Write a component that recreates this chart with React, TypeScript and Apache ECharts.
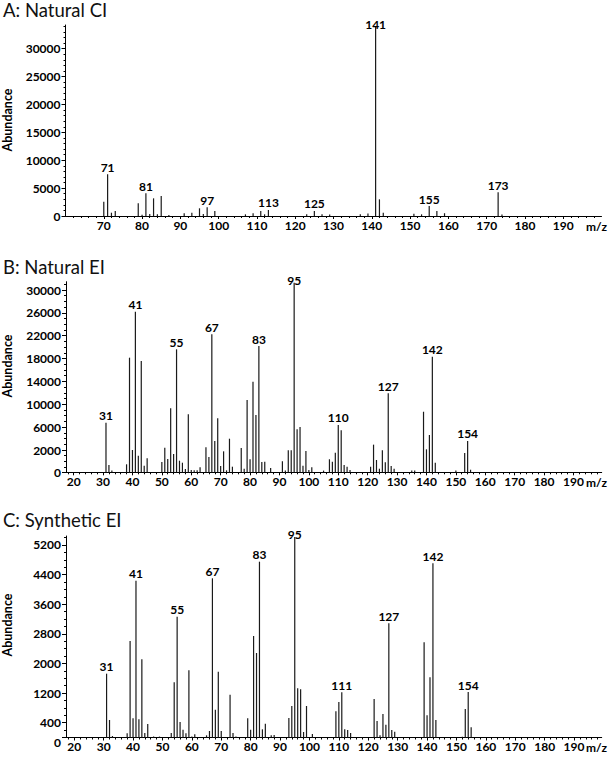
import React, { useEffect, useRef } from "react";
import * as echarts from "echarts";

const FONT = "Lato, 'Noto Sans', sans-serif";

// ---------- Panel A: Natural CI ----------
const A_MZ = [70, 71, 72, 73, 79, 80, 81, 82, 83, 84, 85, 87, 91, 93, 95, 96, 97, 99, 107, 109, 111, 112, 113, 123, 125, 127, 129, 137, 139, 141, 142, 143, 151, 153, 155, 157, 159, 173, 174];
const A_ABUNDANCE = [2560, 7470, 590, 900, 2270, 240, 4070, 360, 3170, 300, 3590, 200, 480, 590, 1380, 350, 1560, 900, 300, 500, 900, 300, 1080, 300, 900, 300, 250, 300, 450, 33950, 2990, 590, 400, 300, 1790, 900, 500, 4250, 250];
const A_LABELED = [71, 81, 97, 113, 125, 141, 155, 173];
const A_X_TICK_LABELS = [70, 80, 90, 100, 110, 120, 130, 140, 150, 160, 170, 180, 190];
const A_Y_TICK_LABELS = [0, 5000, 10000, 15000, 20000, 25000, 30000];

// ---------- Panel B: Natural EI (heights above the baseline, in the axis' units) ----------
const B_MZ = [31, 32, 33, 38, 39, 40, 41, 42, 43, 44, 45, 50, 51, 52, 53, 54, 55, 56, 57, 58, 59, 60, 61, 62, 63, 65, 66, 67, 68, 69, 70, 71, 72, 73, 74, 77, 78, 79, 80, 81, 82, 83, 84, 85, 87, 91, 92, 93, 94, 95, 96, 97, 98, 99, 100, 101, 105, 107, 108, 109, 110, 111, 112, 113, 114, 121, 122, 123, 124, 125, 126, 127, 128, 129, 135, 136, 139, 140, 141, 142, 143, 150, 153, 154, 155];
const B_ABUNDANCE = [8680, 1280, 300, 1400, 20060, 3900, 28100, 2900, 19480, 1160, 2450, 1800, 4300, 2330, 11200, 3200, 21520, 2030, 1680, 580, 10150, 400, 350, 350, 870, 4380, 2680, 24150, 5480, 9450, 1100, 3670, 350, 5880, 980, 4250, 630, 12650, 2280, 15860, 10030, 22100, 1800, 1850, 750, 1920, 300, 3850, 3850, 33180, 7520, 7930, 1160, 3730, 400, 870, 300, 2280, 1860, 3440, 8280, 7350, 1280, 980, 400, 980, 4840, 2150, 630, 3850, 1750, 13830, 1100, 630, 300, 300, 10600, 4020, 6530, 20230, 1680, 300, 3380, 5480, 450];
const B_LABELED = [31, 41, 55, 67, 83, 95, 110, 127, 142, 154];
const B_X_TICK_LABELS = [20, 30, 40, 50, 60, 70, 80, 90, 100, 110, 120, 130, 140, 150, 160, 170, 180, 190];
const B_Y_TICK_LABELS = [0, 2000, 6000, 10000, 14000, 18000, 22000, 26000, 30000];
const B_Y_LABEL_SHIFT = 1900; // the printed labels sit this far above their nominal place

// ---------- Panel C: Synthetic EI ----------
const C_MZ = [31, 32, 33, 38, 39, 40, 41, 42, 43, 44, 45, 47, 49, 53, 54, 55, 56, 57, 58, 59, 60, 61, 65, 66, 67, 68, 69, 70, 73, 74, 75, 79, 80, 81, 82, 83, 84, 85, 87, 88, 93, 94, 95, 96, 97, 98, 99, 101, 109, 110, 111, 112, 113, 114, 118, 122, 123, 124, 125, 126, 127, 128, 129, 139, 140, 141, 142, 143, 152, 153, 154, 155];
const C_ABUNDANCE = [1724, 473, 40, 113, 2607, 518, 4236, 491, 2111, 122, 365, 25, 25, 122, 1490, 3264, 419, 212, 113, 1814, 25, 85, 58, 176, 4300, 752, 1778, 176, 1157, 122, 25, 518, 212, 2742, 2283, 4749, 221, 374, 58, 68, 527, 851, 5416, 1328, 1301, 149, 851, 95, 707, 959, 1220, 221, 203, 122, 15, 1040, 446, 58, 635, 347, 3085, 203, 158, 2571, 599, 1625, 4705, 473, 23, 770, 1229, 275];
const C_LABELED = [31, 41, 55, 67, 83, 95, 111, 127, 142, 154];
const C_X_TICK_LABELS = [20, 30, 40, 50, 60, 70, 80, 90, 100, 110, 120, 130, 140, 150, 160, 170, 180, 190];
const C_Y_TICK_LABELS = [0, 400, 1200, 2000, 2800, 3600, 4400, 5200];

type Panel = {
  title: string;
  mz: number[];
  values: number[];
  labeled: number[];
  xLabels: number[];
  yLabels: number[];
  yPos: number[];
  yMinor: number[];
  xMin: number;
  xMax: number;
  yMax: number;
  left: number;
  right: number;
  top: number;
  bottom: number; // y of baseline in px
  titleY: number;
  abundY: number;
  lowZero: boolean;
};

function evenMinor(min: number, max: number): number[] {
  const out: number[] = [];
  for (let v = Math.ceil(min / 2) * 2; v <= max; v += 2) if (v % 10 !== 0) out.push(v);
  return out;
}
function stepList(from: number, to: number, step: number, shift = 0): number[] {
  const out: number[] = [];
  for (let v = from; v <= to; v += step) if (v + shift > 0) out.push(v + shift);
  return out;
}

const PANELS: Panel[] = [
  {
    title: "A: Natural CI",
    mz: A_MZ, values: A_ABUNDANCE, labeled: A_LABELED,
    xLabels: A_X_TICK_LABELS, yLabels: A_Y_TICK_LABELS,
    yPos: A_Y_TICK_LABELS,
    yMinor: stepList(1000, 34000, 1000),
    xMin: 60, xMax: 200, yMax: 34250,
    left: 65.5, right: 601.5, top: 25, bottom: 216,
    titleY: 10, abundY: 120, lowZero: false,
  },
  {
    title: "B: Natural EI",
    mz: B_MZ, values: B_ABUNDANCE, labeled: B_LABELED,
    xLabels: B_X_TICK_LABELS, yLabels: B_Y_TICK_LABELS,
    yPos: B_Y_TICK_LABELS.map((l) => (l === 0 ? 0 : l + B_Y_LABEL_SHIFT)),
    yMinor: stepList(-1000, 31000, 1000, B_Y_LABEL_SHIFT),
    xMin: 17.4, xMax: 199.6, yMax: 33356,
    left: 66, right: 601.7, top: 281.7, bottom: 472.3,
    titleY: 267, abundY: 366, lowZero: false,
  },
  {
    title: "C: Synthetic EI",
    mz: C_MZ, values: C_ABUNDANCE, labeled: C_LABELED,
    xLabels: C_X_TICK_LABELS, yLabels: C_Y_TICK_LABELS,
    yPos: C_Y_TICK_LABELS,
    yMinor: stepList(200, 5400, 200),
    xMin: 17.2, xMax: 199.4, yMax: 5443,
    left: 66, right: 601.7, top: 536, bottom: 737.5,
    titleY: 520, abundY: 625, lowZero: true,
  },
];

const W = 609;
const H = 757;

function buildOption() {
  const grid: any[] = [];
  const xAxis: any[] = [];
  const yAxis: any[] = [];
  const series: any[] = [];
  const graphic: any[] = [];
  const axisFont = { fontFamily: FONT, fontWeight: "bold", fontSize: 12, color: "#000" };

  PANELS.forEach((p, i) => {
    grid.push({
      left: p.left,
      width: p.right - p.left,
      top: p.top,
      height: p.bottom - p.top,
      containLabel: false,
    });
    xAxis.push({
      type: "value", gridIndex: i, min: p.xMin, max: p.xMax, position: "bottom",
      axisLine: { show: true, onZero: false, lineStyle: { color: "#000", width: 1 } },
      axisTick: { show: true, customValues: p.xLabels, length: 3, lineStyle: { color: "#000" } },
      axisLabel: { show: true, customValues: p.xLabels, margin: 3, ...axisFont },
      splitLine: { show: false },
    });
    xAxis.push({
      type: "value", gridIndex: i, min: p.xMin, max: p.xMax, position: "bottom",
      axisLine: { show: false, onZero: false },
      axisTick: { show: true, customValues: evenMinor(p.xMin, p.xMax), length: 2, lineStyle: { color: "#000" } },
      axisLabel: { show: false },
      splitLine: { show: false },
    });
    const pos = p.yPos;
    const labs = p.yLabels;
    yAxis.push({
      type: "value", gridIndex: i, min: 0, max: p.yMax, position: "left",
      axisLine: { show: true, onZero: false, lineStyle: { color: "#000", width: 1 } },
      axisTick: { show: true, customValues: pos, length: 4, lineStyle: { color: "#000" } },
      axisLabel: {
        show: true, customValues: pos, margin: 5, ...axisFont,
        formatter: (v: number) => {
          const k = pos.indexOf(v);
          const t = k >= 0 ? String(labs[k]) : "";
          return p.lowZero && v === 0 ? "{z|" + t + "}" : t;
        },
        rich: { z: { ...axisFont, padding: [9, 0, 0, 0] } },
      },
      splitLine: { show: false },
    });
    yAxis.push({
      type: "value", gridIndex: i, min: 0, max: p.yMax, position: "left",
      axisLine: { show: false, onZero: false },
      axisTick: { show: true, customValues: p.yMinor, length: 2, lineStyle: { color: "#000" } },
      axisLabel: { show: false },
      splitLine: { show: false },
    });
    series.push({
      type: "bar",
      xAxisIndex: 2 * i,
      yAxisIndex: 2 * i,
      barWidth: 1.2,
      itemStyle: { color: "#1a1a1a" },
      label: {
        show: false, position: "top", distance: 1, ...axisFont,
        formatter: (q: any) => String(q.value[0]),
      },
      data: p.mz.map((m, k) => {
        const v = p.values[k];
        const item: any = { value: [m, v] };
        if (p.labeled.includes(m)) {
          item.label = { show: true, distance: v > 0.95 * p.yMax ? -4 : 1 };
        }
        return item;
      }),
    });
    graphic.push({
      type: "text", x: 3, y: p.titleY,
      style: { text: p.title, fontFamily: FONT, fontSize: 18.5, fill: "#111", verticalAlign: "middle", align: "left" },
    });
    graphic.push({
      type: "text", x: 7.5, y: p.abundY, rotation: Math.PI / 2,
      style: { text: "Abundance", fontFamily: FONT, fontWeight: "bold", fontSize: 12.5, fill: "#000", align: "center", verticalAlign: "middle" },
    });
    graphic.push({
      type: "text", x: 596.5, y: p.bottom + 10,
      style: { text: "m/z", fontFamily: FONT, fontWeight: "bold", fontSize: 12, fill: "#000", align: "center", verticalAlign: "middle" },
    });
  });

  return {
    animation: false,
    backgroundColor: "#fff",
    grid,
    xAxis,
    yAxis,
    series,
    graphic,
  };
}

export default function App() {
  const ref = useRef<HTMLDivElement>(null);
  useEffect(() => {
    if (!ref.current) return;
    const chart = echarts.init(ref.current, null, { renderer: "svg" });
    chart.setOption(buildOption() as any);
    return () => chart.dispose();
  }, []);
  return (
    <div
      ref={ref}
      style={{ position: "absolute", left: 0, top: 0, width: W, height: H, background: "#fff" }}
    />
  );
}
